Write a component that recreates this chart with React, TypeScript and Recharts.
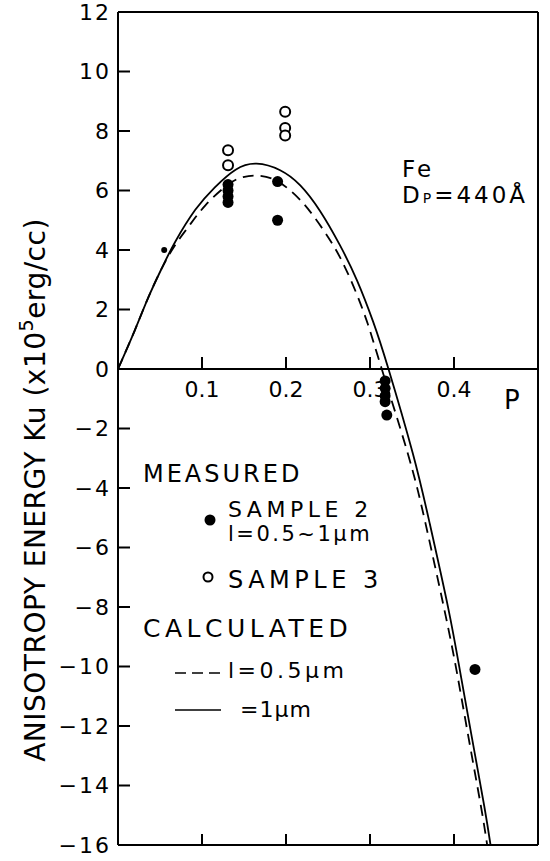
import { ComposedChart, Line, Scatter, XAxis, YAxis, ReferenceLine, ReferenceDot } from 'recharts';

const FONT = '"DejaVu Sans", sans-serif';

// axis ticks
const xTicks = [0, 0.1, 0.2, 0.3, 0.4, 0.5];
const zeroLineTicks = [0.1, 0.2, 0.3, 0.4];
const yTicks = [12, 10, 8, 6, 4, 2, 0, -2, -4, -6, -8, -10, -12, -14, -16];

// calculated curve, l = 1 um (solid)
const thickP = [0, 0.02, 0.036, 0.052, 0.068, 0.092, 0.115, 0.14, 0.165, 0.193, 0.217, 0.2405, 0.264, 0.2845, 0.3036, 0.322, 0.351, 0.371, 0.393, 0.407, 0.421, 0.436, 0.4435];
const thickK = [0, 1.3, 2.4, 3.38, 4.27, 5.35, 6.1, 6.7, 6.9, 6.68, 6.17, 5.31, 4.17, 2.98, 1.6, 0, -2.84, -5.18, -8.02, -10.13, -12.34, -14.69, -16];

// calculated curve, l = 0.5 um (dashed)
const thinP = [0, 0.02, 0.036, 0.06, 0.083, 0.104, 0.131, 0.149, 0.165, 0.185, 0.203, 0.218, 0.2325, 0.256, 0.2765, 0.2956, 0.314, 0.345, 0.366, 0.388, 0.403, 0.417, 0.432, 0.4395];
const thinK = [0, 1.3, 2.4, 3.8, 4.75, 5.5, 6.2, 6.45, 6.5, 6.38, 6.05, 5.65, 5.15, 4.17, 3.03, 1.66, 0, -2.84, -5.18, -8.02, -10.13, -12.34, -14.69, -16];

// measured, sample 2 (filled)
const sample2P = [0.131, 0.131, 0.131, 0.131, 0.19, 0.19, 0.318, 0.318, 0.318, 0.318, 0.32, 0.425];
const sample2K = [6.2, 6.0, 5.8, 5.6, 6.3, 5.0, -0.4, -0.65, -0.9, -1.1, -1.55, -10.1];
// sample 2 point half hidden under the curves
const sample2HiddenP = [0.055];
const sample2HiddenK = [4.0];

// measured, sample 3 (open)
const sample3P = [0.131, 0.131, 0.199, 0.199, 0.199];
const sample3K = [7.35, 6.85, 8.65, 8.1, 7.85];

const zip = (p: number[], k: number[]) => p.map((x, i) => ({ p: x, k: k[i] }));

const thick = zip(thickP, thickK);
const thin = zip(thinP, thinK);
const sample2 = zip(sample2P, sample2K);
const sample2Hidden = zip(sample2HiddenP, sample2HiddenK);
const sample3 = zip(sample3P, sample3K);

const fmt = (v: number) => (v < 0 ? `\u2212${-v}` : `${v}`);

function LeftTick({ x, y, payload }: any) {
  const v = payload.value as number;
  return (
    <g>
      {v !== 12 && v !== -16 && <line x1={x} x2={x + 12} y1={y} y2={y} stroke="#000" strokeWidth={2} />}
      <text x={x - 7} y={y} dy="0.36em" textAnchor="end" fontSize={22} letterSpacing={2} fontFamily={FONT} fill="#000">
        {fmt(v)}
      </text>
    </g>
  );
}

function RightTick({ x, y, payload }: any) {
  const v = payload.value as number;
  if (v === 12 || v === -16 || v === 0) return <g />;
  return <line x1={x} x2={x - 12} y1={y} y2={y} stroke="#000" strokeWidth={2} />;
}

function TopTick({ x, y, payload }: any) {
  const v = payload.value as number;
  if (v === 0 || v === 0.5) return <g />;
  return <line x1={x} x2={x} y1={y} y2={y + 11} stroke="#000" strokeWidth={2} />;
}

function BottomTick({ x, y, payload }: any) {
  const v = payload.value as number;
  if (v === 0 || v === 0.5) return <g />;
  return <line x1={x} x2={x} y1={y} y2={y - 11} stroke="#000" strokeWidth={2} />;
}

const zeroTick = (v: number) => (props: any) => (
  <g>
    <line x1={props.cx} x2={props.cx} y1={props.cy} y2={props.cy - 12} stroke="#000" strokeWidth={2} />
    <text x={props.cx} y={props.cy + 28} textAnchor="middle" fontSize={22} fontFamily={FONT} fill="#000">
      {v.toFixed(1)}
    </text>
  </g>
);

const pLabel = (props: any) => (
  <text x={props.cx} y={props.cy + 40} textAnchor="middle" fontSize={26} fontFamily={FONT} fill="#000">
    P
  </text>
);

const filledDot = (r: number) => (props: any) => <circle cx={props.cx} cy={props.cy} r={r} fill="#000" />;
const openDot = (props: any) => (
  <circle cx={props.cx} cy={props.cy} r={5} fill="#fff" stroke="#000" strokeWidth={2} />
);

function Annotations() {
  const t = { fontFamily: FONT, fill: '#000' };
  return (
    <svg width={550} height={861} style={{ position: 'absolute', left: 0, top: 0, pointerEvents: 'none' }}>
      <text transform="translate(45 490) rotate(-90)" textAnchor="middle" fontSize={28} letterSpacing={0.5} {...t}>
        ANISOTROPY ENERGY Ku (x10
        <tspan fontSize={19} dy={-12}>5</tspan>
        <tspan dy={12}>erg/cc)</tspan>
      </text>

      <text x={402} y={177} fontSize={23} letterSpacing={3} {...t}>Fe</text>
      <text x={402} y={203} fontSize={23} letterSpacing={3} {...t}>
        D<tspan fontSize={14}>P</tspan>=440Å
      </text>

      <text x={143} y={482} fontSize={24} letterSpacing={3} {...t}>MEASURED</text>
      <circle cx={210} cy={520} r={5.5} fill="#000" />
      <text x={228} y={517} fontSize={22} letterSpacing={4.5} {...t}>SAMPLE 2</text>
      <text x={228} y={541} fontSize={21} letterSpacing={2.5} {...t}>l=0.5~1μm</text>
      <circle cx={208} cy={577} r={4.5} fill="#fff" stroke="#000" strokeWidth={2} />
      <text x={228} y={588} fontSize={24} letterSpacing={4.5} {...t}>SAMPLE 3</text>

      <text x={143} y={637} fontSize={25} letterSpacing={4.5} {...t}>CALCULATED</text>
      <line x1={175} x2={221} y1={673} y2={673} stroke="#000" strokeWidth={1.6} strokeDasharray="11 6" />
      <text x={228} y={678} fontSize={22} letterSpacing={3.5} {...t}>l=0.5μm</text>
      <line x1={175} x2={221} y1={710} y2={710} stroke="#000" strokeWidth={1.6} />
      <text x={240} y={717} fontSize={22} letterSpacing={1} {...t}>=1μm</text>
    </svg>
  );
}

export default function App() {
  return (
    <div style={{ position: 'absolute', left: 0, top: 0, width: 550, height: 861, background: '#fff' }}>
      <ComposedChart width={550} height={861} margin={{ top: 11, right: 11, bottom: 15, left: 0 }}>
        <XAxis
          xAxisId="b"
          dataKey="p"
          type="number"
          domain={[0, 0.5]}
          ticks={xTicks}
          interval={0}
          orientation="bottom"
          height={1}
          tickSize={0}
          tickMargin={0}
          tickLine={false}
          axisLine={{ stroke: '#000', strokeWidth: 2 }}
          tick={<BottomTick />}
        />
        <XAxis
          xAxisId="t"
          dataKey="p"
          type="number"
          domain={[0, 0.5]}
          ticks={xTicks}
          interval={0}
          orientation="top"
          height={1}
          tickSize={0}
          tickMargin={0}
          tickLine={false}
          axisLine={{ stroke: '#000', strokeWidth: 2 }}
          tick={<TopTick />}
        />
        <YAxis
          yAxisId="l"
          dataKey="k"
          type="number"
          domain={[-16, 12]}
          ticks={yTicks}
          interval={0}
          width={118}
          tickSize={0}
          tickMargin={0}
          tickLine={false}
          axisLine={{ stroke: '#000', strokeWidth: 2 }}
          tick={<LeftTick />}
        />
        <YAxis
          yAxisId="r"
          dataKey="k"
          type="number"
          orientation="right"
          domain={[-16, 12]}
          ticks={yTicks}
          interval={0}
          width={1}
          tickSize={0}
          tickMargin={0}
          tickLine={false}
          axisLine={{ stroke: '#000', strokeWidth: 2 }}
          tick={<RightTick />}
        />
        <ReferenceLine xAxisId="b" yAxisId="l" y={0} stroke="#000" strokeWidth={2} />
        {zeroLineTicks.map((v) => (
          <ReferenceDot key={v} xAxisId="b" yAxisId="l" x={v} y={0} shape={zeroTick(v)} />
        ))}
        <ReferenceDot xAxisId="b" yAxisId="l" x={0.469} y={0} shape={pLabel} />
        <Line
          xAxisId="b"
          yAxisId="l"
          data={thin}
          dataKey="k"
          type="natural"
          stroke="#000"
          strokeWidth={1.8}
          strokeDasharray="11 7"
          dot={false}
          activeDot={false}
          isAnimationActive={false}
        />
        <Line
          xAxisId="b"
          yAxisId="l"
          data={thick}
          dataKey="k"
          type="natural"
          stroke="#000"
          strokeWidth={1.8}
          dot={false}
          activeDot={false}
          isAnimationActive={false}
        />
        <Scatter xAxisId="b" yAxisId="l" data={sample2} dataKey="k" shape={filledDot(5.5)} isAnimationActive={false} />
        <Scatter xAxisId="b" yAxisId="l" data={sample2Hidden} dataKey="k" shape={filledDot(3)} isAnimationActive={false} />
        <Scatter xAxisId="b" yAxisId="l" data={sample3} dataKey="k" shape={openDot} isAnimationActive={false} />
      </ComposedChart>
      <Annotations />
    </div>
  );
}
